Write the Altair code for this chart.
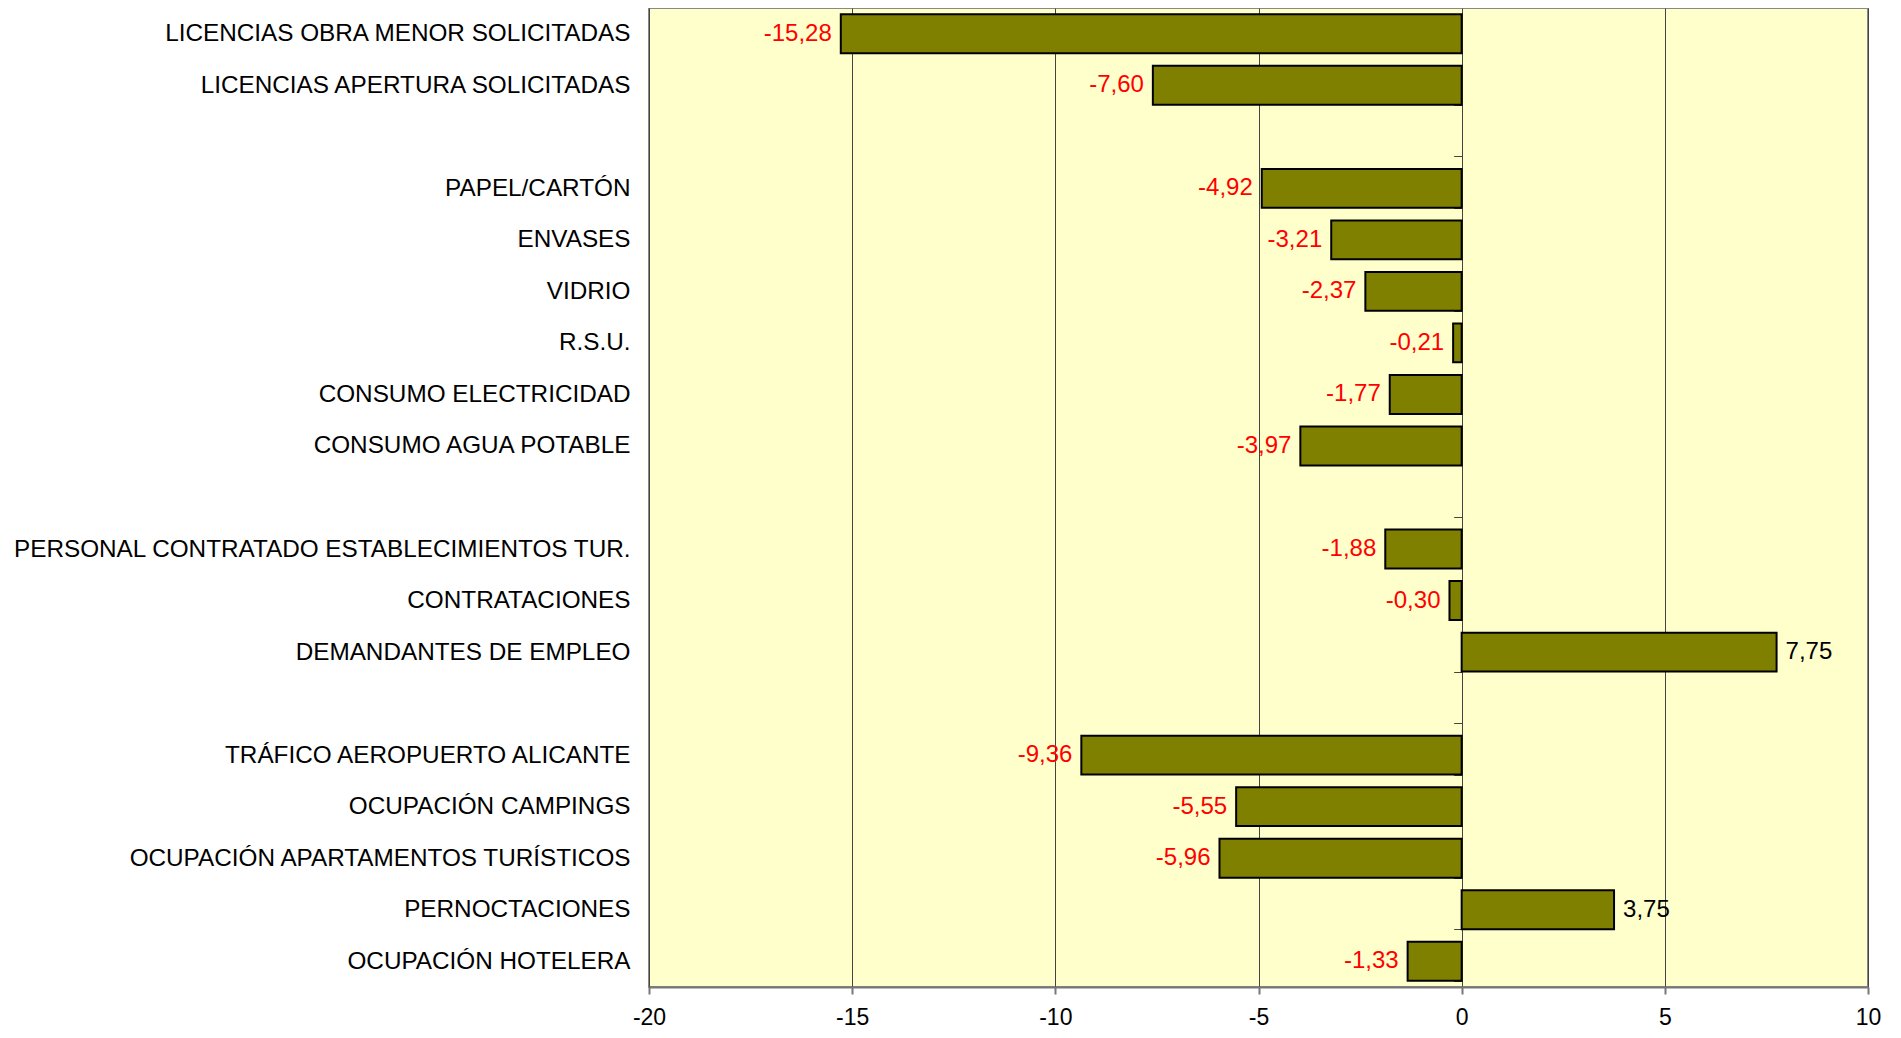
import altair as alt
import pandas as pd

categories = [
    "LICENCIAS OBRA MENOR SOLICITADAS",
    "LICENCIAS APERTURA SOLICITADAS",
    " ",
    "PAPEL/CARTÓN",
    "ENVASES",
    "VIDRIO",
    "R.S.U.",
    "CONSUMO ELECTRICIDAD",
    "CONSUMO AGUA POTABLE",
    "  ",
    "PERSONAL CONTRATADO ESTABLECIMIENTOS TUR.",
    "CONTRATACIONES",
    "DEMANDANTES DE EMPLEO",
    "   ",
    "TRÁFICO AEROPUERTO ALICANTE",
    "OCUPACIÓN CAMPINGS",
    "OCUPACIÓN APARTAMENTOS TURÍSTICOS",
    "PERNOCTACIONES",
    "OCUPACIÓN HOTELERA",
]

bar_categories = [c for c in categories if c.strip()]
values = [-15.28, -7.60, -4.92, -3.21, -2.37, -0.21, -1.77, -3.97,
          -1.88, -0.30, 7.75, -9.36, -5.55, -5.96, 3.75, -1.33]

x_ticks = [-20, -15, -10, -5, 0, 5, 10]

df = pd.DataFrame({"cat": bar_categories, "val": values})
df["label"] = df["val"].map(lambda v: f"{v:.2f}".replace(".", ","))

FONT = "Liberation Sans"
W, H = 1219, 979
zero_px = W * (0 - x_ticks[0]) / (x_ticks[-1] - x_ticks[0])

x_scale = alt.Scale(domain=[x_ticks[0], x_ticks[-1]], nice=False, zero=False)
y_scale = alt.Scale(domain=categories, paddingInner=0.245, paddingOuter=0.1225)

base = alt.Chart(df)

bars = base.mark_bar(color="#808000", stroke="#000000", strokeWidth=2).encode(
    x=alt.X("val:Q", scale=x_scale,
            axis=alt.Axis(values=x_ticks, title=None, grid=True, gridColor="#444444",
                          gridWidth=1, domainColor="#777777", domainWidth=2,
                          tickColor="#777777", tickWidth=2, tickSize=7,
                          labelFont=FONT, labelFontSize=23, labelColor="#000000",
                          labelPadding=12, labelFlush=False, labelOverlap=False,
                          labelExpr="'' + datum.value")),
    x2=alt.datum(0),
    y=alt.Y("cat:N", scale=y_scale, sort=categories,
            axis=alt.Axis(title=None, orient="left", offset=-zero_px, domain=False,
                          ticks=True, tickBand="extent", tickSize=8, tickColor="#444444",
                          tickWidth=1, grid=False,
                          labelPadding=zero_px - 8 + 19, labelAlign="right",
                          labelFont=FONT, labelFontSize=24.3, labelColor="#000000",
                          labelLimit=0, labelOverlap=False)),
)

neg_text = base.transform_filter("datum.val < 0").mark_text(
    align="right", baseline="middle", dx=-9, font=FONT, fontSize=24, color="#FF0000"
).encode(
    x=alt.X("val:Q", scale=x_scale),
    y=alt.Y("cat:N", scale=y_scale, sort=categories),
    text="label:N",
)

pos_text = base.transform_filter("datum.val >= 0").mark_text(
    align="left", baseline="middle", dx=9, font=FONT, fontSize=24, color="#000000"
).encode(
    x=alt.X("val:Q", scale=x_scale),
    y=alt.Y("cat:N", scale=y_scale, sort=categories),
    text="label:N",
)

chart = alt.layer(bars, neg_text, pos_text).properties(
    width=W, height=H,
    autosize=alt.AutoSizeParams(type="none"),
    padding={"left": 641, "top": 0, "right": 20, "bottom": 43},
    background="#FFFFFF",
).configure_view(
    fill="#FFFFCC", stroke="#888888", strokeWidth=2
)

chart.save("out.html", embed_options={"renderer": "svg", "actions": False})
